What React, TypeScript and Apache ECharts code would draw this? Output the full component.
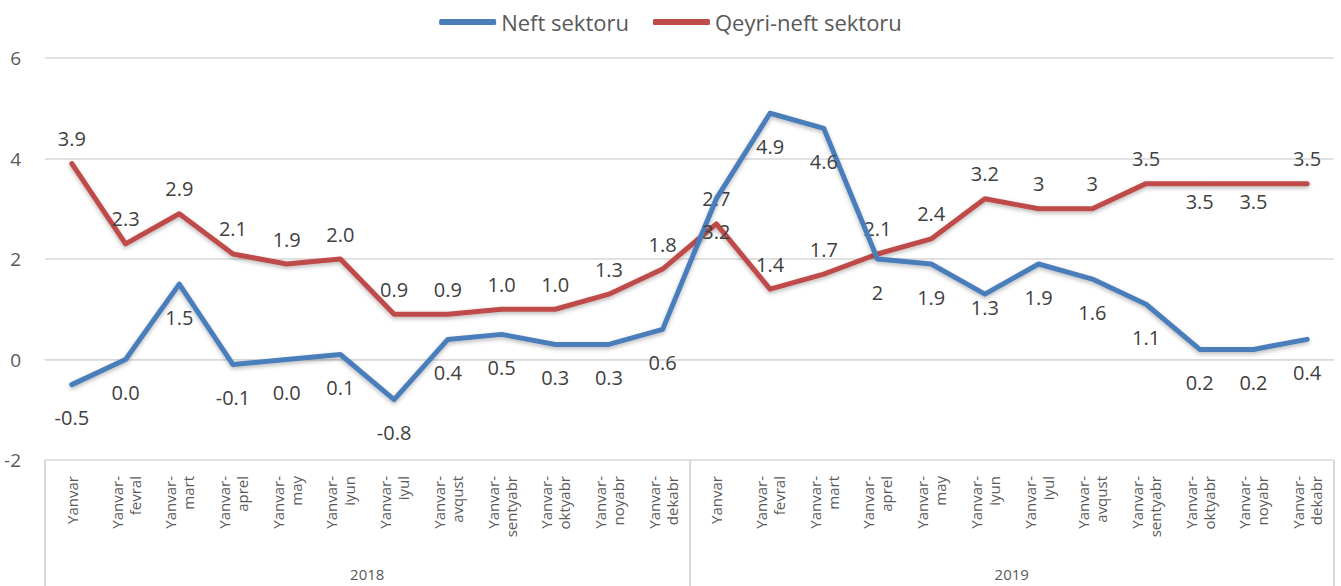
import React, { useEffect, useRef } from "react";
import * as echarts from "echarts";

const months = [
  "Yanvar",
  "Yanvar-\nfevral",
  "Yanvar-\nmart",
  "Yanvar-\naprel",
  "Yanvar-\nmay",
  "Yanvar-\niyun",
  "Yanvar-\niyul",
  "Yanvar-\navqust",
  "Yanvar-\nsentyabr",
  "Yanvar-\noktyabr",
  "Yanvar-\nnoyabr",
  "Yanvar-\ndekabr",
];
const years = ["2018", "2019"];
const categories = [...months, ...months];

const neftSektoru = [
  -0.5, 0.0, 1.5, -0.1, 0.0, 0.1, -0.8, 0.4, 0.5, 0.3, 0.3, 0.6,
  3.2, 4.9, 4.6, 2.0, 1.9, 1.3, 1.9, 1.6, 1.1, 0.2, 0.2, 0.4,
];
const qeyriNeftSektoru = [
  3.9, 2.3, 2.9, 2.1, 1.9, 2.0, 0.9, 0.9, 1.0, 1.0, 1.3, 1.8,
  2.7, 1.4, 1.7, 2.1, 2.4, 3.2, 3.0, 3.0, 3.5, 3.5, 3.5, 3.5,
];
const yTicks = { min: -2, max: 6, interval: 2 };

const FONT = "'Open Sans', 'Noto Sans', sans-serif";
const BLUE = "#4a7ebb";
const RED = "#be4b48";

const fmt = (v: number, i: number) => (i < 12 ? v.toFixed(1) : String(v));

export default function App() {
  const ref = useRef<HTMLDivElement>(null);
  useEffect(() => {
    if (!ref.current) return;
    const chart = echarts.init(ref.current, null, { renderer: "svg" });

    const blueData = neftSektoru.map((v, i) => {
      const item: any = { value: v };
      if (i === 17) item.label = { distance: 2 };
      return item;
    });
    const redData = qeyriNeftSektoru.map((v, i) => {
      const item: any = { value: v };
      if (i === 21 || i === 22) item.label = { position: "bottom", distance: 7 };
      return item;
    });

    const lineStyleBase = {
      width: 5,
      cap: "round",
      join: "round",
      shadowColor: "rgba(0,0,0,0.28)",
      shadowBlur: 4,
      shadowOffsetY: 2,
    };

    chart.setOption({
      animation: false,
      textStyle: { fontFamily: FONT },
      legend: {
        top: 6,
        left: "center",
        itemWidth: 57,
        itemHeight: 6,
        itemGap: 24,
        icon: "roundRect",
        textStyle: { fontSize: 22, color: "#595959", fontFamily: FONT },
        data: [
          { name: "Neft sektoru", itemStyle: { color: BLUE, opacity: 1 } },
          { name: "Qeyri-neft sektoru", itemStyle: { color: RED, opacity: 1 } },
        ],
      },
      grid: { left: 45, right: 7, top: 58, bottom: 126, containLabel: false },
      xAxis: [
        {
          type: "category",
          data: categories,
          boundaryGap: true,
          axisLine: { show: true, lineStyle: { color: "#d9d9d9", width: 1 } },
          axisTick: { show: false },
          axisLabel: {
            rotate: 90,
            interval: 0,
            margin: 16,
            fontSize: 15,
            lineHeight: 18,
            color: "#595959",
            fontFamily: FONT,
          },
        },
        {
          type: "category",
          data: years,
          position: "bottom",
          boundaryGap: true,
          axisLine: { show: false },
          axisTick: {
            show: true,
            length: 126,
            lineStyle: { color: "#d9d9d9", width: 2 },
          },
          axisLabel: {
            margin: 106,
            fontSize: 15,
            color: "#595959",
            fontFamily: FONT,
          },
        },
      ],
      yAxis: {
        type: "value",
        min: yTicks.min,
        max: yTicks.max,
        interval: yTicks.interval,
        axisLine: { show: false },
        axisTick: { show: false },
        axisLabel: { fontSize: 19, color: "#595959", margin: 24, fontFamily: FONT },
        splitLine: { lineStyle: { color: "#d9d9d9", width: 1.5 } },
      },
      series: [
        {
          name: "Neft sektoru",
          type: "line",
          xAxisIndex: 0,
          data: blueData,
          symbol: "circle",
          symbolSize: 2,
          showSymbol: true,
          showAllSymbol: true,
          itemStyle: { color: BLUE, borderWidth: 0 },
          color: BLUE,
          lineStyle: { ...lineStyleBase, color: BLUE },
          label: {
            show: true,
            position: "bottom",
            distance: 22,
            fontSize: 20,
            color: "#404040",
            fontFamily: FONT,
            formatter: (p: any) => fmt(p.value, p.dataIndex),
          },
          labelLayout: { hideOverlap: false },
          z: 3,
        },
        {
          name: "Qeyri-neft sektoru",
          type: "line",
          xAxisIndex: 0,
          data: redData,
          symbol: "circle",
          symbolSize: 2,
          showSymbol: true,
          showAllSymbol: true,
          itemStyle: { color: RED, borderWidth: 0 },
          color: RED,
          lineStyle: { ...lineStyleBase, color: RED },
          label: {
            show: true,
            position: "top",
            distance: 14,
            fontSize: 20,
            color: "#404040",
            fontFamily: FONT,
            formatter: (p: any) => fmt(p.value, p.dataIndex),
          },
          labelLayout: { hideOverlap: false },
          z: 2,
        },
      ],
    });
    return () => chart.dispose();
  }, []);

  return (
    <div
      ref={ref}
      style={{ position: "fixed", left: 0, top: 0, width: 1341, height: 586, background: "#fff" }}
    />
  );
}
